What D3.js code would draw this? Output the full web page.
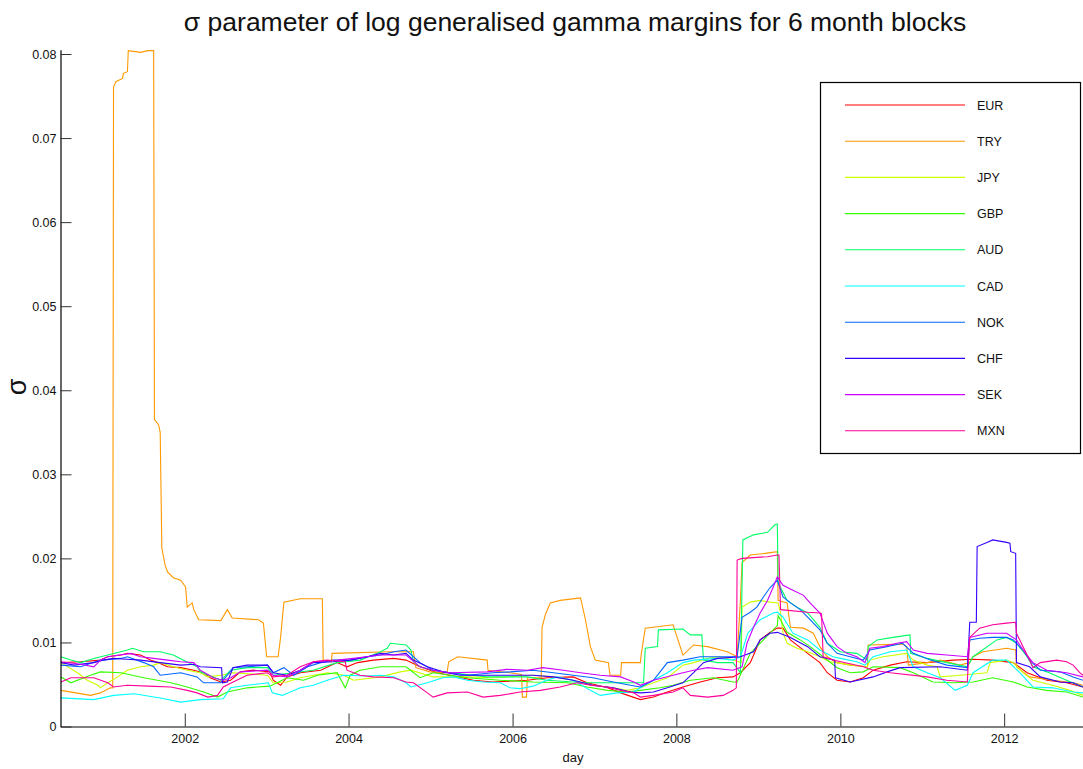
<!DOCTYPE html>
<html>
<head>
<meta charset="utf-8" />
<title>sigma parameter of log generalised gamma margins</title>
<script src="https://d3js.org/d3.v7.min.js"></script>
<style>
  body { margin: 0; background: #fff; }
  text { font-family: "Liberation Sans", Arial, Helvetica, sans-serif; }
</style>
</head>
<body>
<div id="chart"></div>
<script>

// currencies in legend order, hsv(10) colours
const currencies = ["EUR", "TRY", "JPY", "GBP", "AUD", "CAD", "NOK", "CHF", "SEK", "MXN"];
const colours = ["#ff0000", "#ff9900", "#ccff00", "#33ff00", "#00ff66", "#00ffff", "#0066ff", "#3300ff", "#cc00ff", "#ff0099"];

const yTicks = [0, 0.01, 0.02, 0.03, 0.04, 0.05, 0.06, 0.07, 0.08];
const xTickYears = [2002, 2004, 2006, 2008, 2010, 2012];

// [decimal year, sigma]
const EUR = [[2000.49,0.0076],[2000.73,0.0077],[2000.97,0.0079],[2001.06,0.0083],[2001.22,0.0085],[2001.30,0.0087],[2001.46,0.0085],[2001.58,0.0079],[2001.67,0.0076],[2001.79,0.0071],[2001.95,0.0070],[2002.11,0.0067],[2002.23,0.0064],[2002.31,0.0058],[2002.44,0.0053],[2002.56,0.0055],[2002.68,0.0065],[2002.84,0.0067],[2003.04,0.0065],[2003.08,0.0055],[2003.17,0.0049],[2003.25,0.0059],[2003.41,0.0064],[2003.66,0.0067],[2003.86,0.0076],[2003.98,0.0071],[2004.11,0.0076],[2004.30,0.0079],[2004.55,0.0081],[2004.70,0.0079],[2004.87,0.0071],[2005.08,0.0064],[2005.33,0.0059],[2005.52,0.0055],[2005.76,0.0053],[2006.18,0.0055],[2006.42,0.0058],[2006.74,0.0059],[2006.91,0.0052],[2007.16,0.0046],[2007.32,0.0040],[2007.56,0.0032],[2007.72,0.0035],[2007.89,0.0041],[2008.08,0.0047],[2008.29,0.0053],[2008.50,0.0058],[2008.69,0.0059],[2008.78,0.0064],[2008.90,0.0076],[2009.02,0.0103],[2009.14,0.0112],[2009.23,0.0117],[2009.30,0.0117],[2009.39,0.0103],[2009.60,0.0087],[2009.75,0.0076],[2009.84,0.0064],[2009.96,0.0055],[2010.12,0.0053],[2010.28,0.0058],[2010.40,0.0067],[2010.61,0.0073],[2010.81,0.0077],[2011.06,0.0076],[2011.38,0.0079],[2011.62,0.0080],[2011.86,0.0079],[2012.11,0.0076],[2012.28,0.0064],[2012.52,0.0055],[2012.76,0.0052],[2012.96,0.0047]];

const TRY = [[2000.49,0.0043],[2000.67,0.0040],[2000.85,0.0037],[2000.97,0.0040],[2001.09,0.0046],[2001.12,0.0046],[2001.13,0.0761],[2001.16,0.0767],[2001.20,0.0769],[2001.24,0.0771],[2001.25,0.0777],[2001.30,0.0779],[2001.31,0.0804],[2001.46,0.0802],[2001.55,0.0804],[2001.62,0.0804],[2001.63,0.0365],[2001.68,0.0359],[2001.70,0.0350],[2001.72,0.0212],[2001.76,0.0192],[2001.79,0.0184],[2001.86,0.0177],[2001.95,0.0174],[2002.01,0.0166],[2002.03,0.0142],[2002.09,0.0147],[2002.11,0.0139],[2002.17,0.0127],[2002.44,0.0126],[2002.52,0.0139],[2002.58,0.0129],[2002.90,0.0127],[2002.96,0.0123],[2003.00,0.0083],[2003.14,0.0083],[2003.17,0.0106],[2003.21,0.0148],[2003.41,0.0152],[2003.68,0.0152],[2003.69,0.0079],[2003.79,0.0077],[2003.80,0.0087],[2004.51,0.0089],[2004.79,0.0089],[2004.82,0.0070],[2004.99,0.0065],[2005.20,0.0064],[2005.22,0.0077],[2005.33,0.0083],[2005.69,0.0079],[2005.70,0.0067],[2005.97,0.0064],[2006.11,0.0062],[2006.12,0.0035],[2006.17,0.0035],[2006.18,0.0058],[2006.35,0.0058],[2006.36,0.0118],[2006.40,0.0133],[2006.46,0.0147],[2006.58,0.0150],[2006.83,0.0153],[2006.89,0.0127],[2006.95,0.0095],[2007.01,0.0079],[2007.17,0.0076],[2007.19,0.0061],[2007.32,0.0061],[2007.33,0.0076],[2007.56,0.0076],[2007.57,0.0085],[2007.62,0.0117],[2007.96,0.0121],[2008.08,0.0085],[2008.21,0.0097],[2008.38,0.0095],[2008.62,0.0089],[2008.74,0.0083],[2008.78,0.0150],[2008.80,0.0195],[2008.90,0.0204],[2009.08,0.0206],[2009.23,0.0208],[2009.24,0.0150],[2009.35,0.0147],[2009.39,0.0118],[2009.55,0.0117],[2009.67,0.0111],[2009.75,0.0095],[2009.84,0.0083],[2009.96,0.0076],[2010.12,0.0073],[2010.33,0.0071],[2010.34,0.0097],[2010.76,0.0098],[2010.81,0.0095],[2010.83,0.0073],[2011.06,0.0076],[2011.22,0.0079],[2011.46,0.0073],[2011.58,0.0076],[2011.62,0.0083],[2011.74,0.0089],[2012.03,0.0093],[2012.14,0.0091],[2012.15,0.0071],[2012.31,0.0059],[2012.59,0.0055],[2012.84,0.0052],[2012.96,0.0049]];

const JPY = [[2000.49,0.0076],[2000.69,0.0064],[2000.81,0.0055],[2000.94,0.0049],[2000.97,0.0046],[2001.06,0.0052],[2001.18,0.0059],[2001.30,0.0067],[2001.46,0.0071],[2001.62,0.0073],[2001.70,0.0076],[2001.86,0.0071],[2002.03,0.0067],[2002.19,0.0064],[2002.28,0.0059],[2002.44,0.0061],[2002.59,0.0064],[2003.01,0.0061],[2003.08,0.0052],[2003.25,0.0053],[2003.41,0.0058],[2003.74,0.0064],[2003.94,0.0061],[2004.06,0.0055],[2004.39,0.0059],[2004.63,0.0065],[2004.76,0.0067],[2005.03,0.0059],[2005.45,0.0059],[2005.76,0.0058],[2006.25,0.0061],[2006.50,0.0059],[2006.74,0.0055],[2006.98,0.0049],[2007.23,0.0046],[2007.40,0.0043],[2007.56,0.0046],[2007.72,0.0052],[2007.89,0.0058],[2008.08,0.0073],[2008.21,0.0076],[2008.38,0.0081],[2008.53,0.0083],[2008.69,0.0079],[2008.79,0.0076],[2008.80,0.0142],[2008.90,0.0148],[2009.02,0.0150],[2009.14,0.0148],[2009.24,0.0147],[2009.27,0.0135],[2009.30,0.0111],[2009.35,0.0099],[2009.47,0.0093],[2009.60,0.0089],[2009.75,0.0083],[2009.87,0.0077],[2010.15,0.0073],[2010.33,0.0071],[2010.36,0.0079],[2010.52,0.0083],[2010.81,0.0087],[2010.89,0.0079],[2011.06,0.0073],[2011.18,0.0071],[2011.22,0.0059],[2011.46,0.0061],[2011.79,0.0064],[2011.83,0.0076],[2012.03,0.0079],[2012.11,0.0076],[2012.23,0.0064],[2012.35,0.0055],[2012.59,0.0049],[2012.80,0.0043],[2012.96,0.0037]];

const GBP = [[2000.49,0.0059],[2000.61,0.0052],[2000.85,0.0061],[2000.97,0.0065],[2001.22,0.0064],[2001.50,0.0058],[2001.83,0.0052],[2002.03,0.0047],[2002.23,0.0041],[2002.40,0.0035],[2002.52,0.0041],[2002.76,0.0046],[2003.04,0.0048],[2003.25,0.0058],[2003.45,0.0055],[2003.62,0.0061],[2003.86,0.0064],[2003.96,0.0046],[2004.02,0.0061],[2004.14,0.0067],[2004.39,0.0071],[2004.70,0.0071],[2004.87,0.0058],[2005.03,0.0064],[2005.45,0.0058],[2005.85,0.0055],[2006.25,0.0053],[2006.67,0.0052],[2006.91,0.0047],[2007.16,0.0043],[2007.40,0.0041],[2007.56,0.0043],[2007.80,0.0046],[2007.96,0.0049],[2008.17,0.0055],[2008.45,0.0058],[2008.69,0.0053],[2008.74,0.0053],[2008.90,0.0087],[2009.06,0.0103],[2009.23,0.0120],[2009.24,0.0132],[2009.35,0.0112],[2009.51,0.0103],[2009.63,0.0095],[2009.79,0.0083],[2009.96,0.0070],[2010.12,0.0064],[2010.28,0.0065],[2010.40,0.0071],[2010.73,0.0070],[2010.89,0.0064],[2011.13,0.0053],[2011.38,0.0052],[2011.62,0.0053],[2011.86,0.0058],[2012.11,0.0053],[2012.28,0.0047],[2012.52,0.0043],[2012.76,0.0041],[2012.96,0.0035]];

const AUD = [[2000.49,0.0083],[2000.61,0.0079],[2000.73,0.0076],[2000.89,0.0081],[2001.06,0.0085],[2001.30,0.0091],[2001.36,0.0093],[2001.50,0.0089],[2001.70,0.0089],[2001.86,0.0085],[2001.98,0.0079],[2002.15,0.0071],[2002.19,0.0065],[2002.44,0.0055],[2002.56,0.0067],[2002.76,0.0070],[2003.01,0.0070],[2003.08,0.0061],[2003.33,0.0064],[2003.57,0.0067],[2003.86,0.0076],[2004.14,0.0079],[2004.35,0.0087],[2004.47,0.0093],[2004.51,0.0099],[2004.70,0.0097],[2004.76,0.0091],[2004.79,0.0077],[2004.87,0.0071],[2005.03,0.0067],[2005.24,0.0064],[2005.69,0.0059],[2006.18,0.0059],[2006.42,0.0055],[2006.74,0.0053],[2006.91,0.0052],[2007.48,0.0052],[2007.60,0.0052],[2007.62,0.0093],[2007.77,0.0095],[2007.78,0.0115],[2008.08,0.0116],[2008.17,0.0109],[2008.31,0.0109],[2008.33,0.0079],[2008.50,0.0076],[2008.69,0.0076],[2008.78,0.0064],[2008.81,0.0222],[2008.94,0.0228],[2009.11,0.0231],[2009.20,0.0240],[2009.23,0.0241],[2009.24,0.0171],[2009.35,0.0150],[2009.47,0.0142],[2009.60,0.0135],[2009.75,0.0118],[2009.84,0.0099],[2010.00,0.0089],[2010.20,0.0087],[2010.33,0.0079],[2010.34,0.0095],[2010.45,0.0103],[2010.64,0.0106],[2010.85,0.0109],[2010.86,0.0087],[2011.06,0.0081],[2011.30,0.0076],[2011.55,0.0071],[2011.62,0.0083],[2011.91,0.0103],[2012.03,0.0106],[2012.15,0.0099],[2012.28,0.0083],[2012.35,0.0071],[2012.52,0.0065],[2012.76,0.0055],[2012.96,0.0047]];

const CAD = [[2000.49,0.0034],[2000.89,0.0032],[2001.13,0.0037],[2001.38,0.0039],[2001.70,0.0034],[2001.95,0.0029],[2002.19,0.0032],[2002.47,0.0033],[2002.56,0.0046],[2002.76,0.0049],[2003.02,0.0052],[2003.07,0.0040],[2003.19,0.0037],[2003.41,0.0046],[2003.57,0.0049],[2003.74,0.0055],[2003.94,0.0061],[2004.23,0.0060],[2004.39,0.0061],[2004.55,0.0059],[2004.70,0.0052],[2004.76,0.0047],[2004.96,0.0052],[2005.15,0.0058],[2005.28,0.0059],[2005.45,0.0055],[2005.64,0.0053],[2005.85,0.0052],[2005.97,0.0046],[2006.09,0.0045],[2006.25,0.0048],[2006.42,0.0055],[2006.55,0.0059],[2006.74,0.0055],[2006.95,0.0043],[2007.07,0.0037],[2007.28,0.0040],[2007.48,0.0041],[2007.56,0.0046],[2007.72,0.0055],[2007.89,0.0064],[2008.08,0.0076],[2008.21,0.0079],[2008.50,0.0081],[2008.69,0.0079],[2008.78,0.0083],[2008.87,0.0111],[2009.02,0.0127],[2009.18,0.0135],[2009.23,0.0136],[2009.30,0.0130],[2009.42,0.0111],[2009.60,0.0103],[2009.75,0.0091],[2009.91,0.0083],[2010.00,0.0081],[2010.20,0.0077],[2010.30,0.0073],[2010.40,0.0083],[2010.61,0.0089],[2010.81,0.0091],[2010.89,0.0071],[2011.06,0.0064],[2011.22,0.0058],[2011.40,0.0043],[2011.55,0.0049],[2011.62,0.0064],[2011.86,0.0079],[2012.03,0.0079],[2012.19,0.0064],[2012.35,0.0047],[2012.59,0.0046],[2012.84,0.0041],[2012.96,0.0040]];

const NOK = [[2000.49,0.0073],[2000.73,0.0071],[2000.97,0.0079],[2001.22,0.0081],[2001.30,0.0083],[2001.50,0.0076],[2001.62,0.0071],[2001.70,0.0061],[2001.95,0.0064],[2002.15,0.0059],[2002.23,0.0052],[2002.44,0.0052],[2002.52,0.0061],[2002.59,0.0070],[2002.76,0.0071],[2003.01,0.0073],[2003.08,0.0064],[2003.21,0.0070],[2003.33,0.0061],[2003.50,0.0071],[2003.66,0.0076],[2003.81,0.0079],[2004.02,0.0079],[2004.23,0.0083],[2004.39,0.0085],[2004.55,0.0089],[2004.70,0.0091],[2004.87,0.0076],[2005.03,0.0067],[2005.24,0.0064],[2005.45,0.0061],[2005.76,0.0064],[2005.97,0.0065],[2006.25,0.0067],[2006.50,0.0064],[2006.74,0.0061],[2006.98,0.0058],[2007.23,0.0053],[2007.44,0.0049],[2007.56,0.0047],[2007.72,0.0055],[2007.89,0.0076],[2008.08,0.0079],[2008.29,0.0083],[2008.74,0.0083],[2008.80,0.0130],[2008.90,0.0136],[2008.98,0.0142],[2009.06,0.0154],[2009.14,0.0165],[2009.23,0.0174],[2009.30,0.0154],[2009.39,0.0147],[2009.51,0.0139],[2009.63,0.0127],[2009.75,0.0115],[2009.84,0.0099],[2009.96,0.0087],[2010.12,0.0083],[2010.28,0.0079],[2010.36,0.0091],[2010.57,0.0095],[2010.76,0.0099],[2010.89,0.0087],[2011.10,0.0079],[2011.30,0.0073],[2011.55,0.0070],[2011.58,0.0103],[2011.70,0.0105],[2011.86,0.0106],[2012.03,0.0106],[2012.11,0.0103],[2012.23,0.0091],[2012.31,0.0079],[2012.44,0.0067],[2012.68,0.0065],[2012.84,0.0059],[2012.96,0.0055]];

const CHF = [[2000.49,0.0076],[2000.65,0.0073],[2000.89,0.0076],[2001.01,0.0079],[2001.13,0.0081],[2001.30,0.0080],[2001.46,0.0079],[2001.70,0.0076],[2001.95,0.0073],[2002.11,0.0074],[2002.19,0.0071],[2002.45,0.0070],[2002.46,0.0052],[2002.52,0.0053],[2002.59,0.0070],[2002.76,0.0073],[2003.01,0.0073],[2003.08,0.0064],[2003.25,0.0061],[2003.41,0.0067],[2003.57,0.0076],[2003.81,0.0077],[2004.02,0.0079],[2004.23,0.0083],[2004.39,0.0087],[2004.55,0.0085],[2004.70,0.0087],[2004.79,0.0079],[2004.96,0.0071],[2005.15,0.0065],[2005.36,0.0061],[2006.25,0.0061],[2006.50,0.0059],[2006.74,0.0055],[2006.98,0.0049],[2007.23,0.0046],[2007.44,0.0041],[2007.56,0.0040],[2007.72,0.0041],[2007.89,0.0046],[2008.08,0.0052],[2008.21,0.0064],[2008.33,0.0076],[2008.50,0.0081],[2008.78,0.0083],[2008.94,0.0089],[2009.02,0.0103],[2009.14,0.0111],[2009.23,0.0112],[2009.39,0.0106],[2009.60,0.0095],[2009.75,0.0083],[2009.93,0.0079],[2009.94,0.0058],[2010.12,0.0053],[2010.40,0.0059],[2010.57,0.0065],[2010.73,0.0070],[2011.22,0.0071],[2011.55,0.0067],[2011.58,0.0124],[2011.66,0.0124],[2011.67,0.0214],[2011.79,0.0219],[2011.86,0.0222],[2012.03,0.0219],[2012.07,0.0218],[2012.08,0.0208],[2012.14,0.0206],[2012.15,0.0076],[2012.31,0.0071],[2012.44,0.0059],[2012.68,0.0053],[2012.84,0.0052],[2012.96,0.0047]];

const SEK = [[2000.49,0.0077],[2000.73,0.0074],[2000.89,0.0071],[2000.97,0.0079],[2001.06,0.0083],[2001.34,0.0087],[2001.46,0.0083],[2001.62,0.0081],[2001.79,0.0079],[2001.95,0.0077],[2002.11,0.0076],[2002.19,0.0067],[2002.35,0.0058],[2002.47,0.0055],[2002.56,0.0058],[2002.68,0.0065],[2003.01,0.0067],[2003.08,0.0061],[2003.25,0.0059],[2003.41,0.0067],[2003.57,0.0077],[2003.86,0.0079],[2004.06,0.0081],[2004.39,0.0085],[2004.70,0.0085],[2004.87,0.0071],[2005.03,0.0067],[2005.24,0.0064],[2005.69,0.0065],[2005.93,0.0068],[2006.18,0.0067],[2006.37,0.0070],[2006.62,0.0067],[2006.83,0.0064],[2007.07,0.0061],[2007.32,0.0059],[2007.48,0.0053],[2007.56,0.0049],[2007.72,0.0055],[2008.08,0.0064],[2008.21,0.0067],[2008.38,0.0070],[2008.69,0.0067],[2008.80,0.0071],[2008.86,0.0099],[2008.94,0.0118],[2009.02,0.0135],[2009.11,0.0150],[2009.18,0.0166],[2009.23,0.0178],[2009.30,0.0168],[2009.42,0.0162],[2009.55,0.0156],[2009.63,0.0147],[2009.75,0.0135],[2009.84,0.0111],[2009.96,0.0095],[2010.08,0.0087],[2010.20,0.0083],[2010.30,0.0076],[2010.36,0.0093],[2010.52,0.0095],[2010.69,0.0099],[2010.81,0.0101],[2010.89,0.0091],[2011.06,0.0087],[2011.30,0.0085],[2011.55,0.0083],[2011.58,0.0106],[2011.79,0.0111],[2012.03,0.0111],[2012.15,0.0103],[2012.23,0.0091],[2012.35,0.0076],[2012.52,0.0067],[2012.76,0.0064],[2012.96,0.0059]];

const MXN = [[2000.49,0.0053],[2000.61,0.0058],[2000.89,0.0058],[2001.06,0.0052],[2001.13,0.0047],[2001.30,0.0049],[2001.55,0.0048],[2001.83,0.0047],[2002.03,0.0043],[2002.15,0.0040],[2002.28,0.0035],[2002.40,0.0037],[2002.47,0.0047],[2002.59,0.0053],[2002.76,0.0061],[2003.01,0.0064],[2003.08,0.0059],[2003.25,0.0061],[2003.41,0.0071],[2003.57,0.0077],[2003.74,0.0079],[2003.96,0.0077],[2003.98,0.0067],[2004.14,0.0061],[2004.30,0.0059],[2004.55,0.0058],[2004.70,0.0053],[2004.79,0.0052],[2004.96,0.0040],[2005.03,0.0035],[2005.20,0.0040],[2005.45,0.0041],[2005.64,0.0035],[2005.85,0.0037],[2006.09,0.0041],[2006.34,0.0043],[2006.58,0.0047],[2006.79,0.0052],[2006.95,0.0049],[2007.16,0.0047],[2007.32,0.0043],[2007.48,0.0040],[2007.56,0.0035],[2007.72,0.0037],[2007.96,0.0041],[2008.08,0.0046],[2008.17,0.0037],[2008.38,0.0035],[2008.57,0.0037],[2008.69,0.0043],[2008.73,0.0046],[2008.74,0.0198],[2008.80,0.0200],[2009.11,0.0202],[2009.23,0.0204],[2009.25,0.0204],[2009.27,0.0139],[2009.60,0.0136],[2009.75,0.0135],[2009.77,0.0134],[2009.79,0.0083],[2009.91,0.0079],[2010.28,0.0071],[2010.40,0.0067],[2010.61,0.0064],[2011.06,0.0059],[2011.30,0.0055],[2011.55,0.0053],[2011.58,0.0106],[2011.70,0.0117],[2011.86,0.0121],[2012.03,0.0123],[2012.14,0.0124],[2012.15,0.0111],[2012.23,0.0095],[2012.31,0.0079],[2012.35,0.0070],[2012.44,0.0076],[2012.64,0.0079],[2012.76,0.0077],[2012.84,0.0073],[2012.92,0.0064],[2012.96,0.0061]];

const seriesValues = [EUR, TRY, JPY, GBP, AUD, CAD, NOK, CHF, SEK, MXN];

// decimal year -> Date
function toDate(y) {
    const yr = Math.floor(y);
    const a = new Date(yr, 0, 1), b = new Date(yr + 1, 0, 1);
    return new Date(+a + (y - yr) * (b - a));
}

const W = 1083, H = 769;

const svg = d3.select("#chart")
    .append("svg")
        .attr("width", W)
        .attr("height", H);

const x = d3.scaleTime()
    .domain([toDate(2000.484), toDate(2012.96)])
    .range([60.5, 1083]);

const y = d3.scaleLinear()
    .domain([0, 0.0805])
    .range([726.5, 49.8]);

// lines
const line = d3.line()
    .x(d => x(toDate(d[0])))
    .y(d => y(d[1]));

svg.append("g")
    .selectAll("path")
    .data(seriesValues)
    .join("path")
        .attr("d", line)
        .attr("fill", "none")
        .attr("stroke", (d, i) => colours[i])
        .attr("stroke-width", 1.1);

// axes, ticks pointing inwards
const xAxis = svg.append("g")
    .attr("transform", "translate(0,726.5)")
    .call(d3.axisBottom(x)
        .tickValues(xTickYears.map(v => new Date(v, 0, 1)))
        .tickFormat(d3.timeFormat("%Y"))
        .tickSizeInner(-13)
        .tickSizeOuter(0)
        .tickPadding(8));

const yAxis = svg.append("g")
    .attr("transform", "translate(60.5,0)")
    .call(d3.axisLeft(y)
        .tickValues(yTicks)
        .tickFormat(d => d === 0 ? "0" : d3.format(".2f")(d))
        .tickSizeInner(-11)
        .tickSizeOuter(0)
        .tickPadding(4));

[xAxis, yAxis].forEach(g => {
    g.select(".domain").attr("stroke", "#000").attr("stroke-width", 1.2);
    g.selectAll(".tick line").attr("stroke", "#333");
    g.selectAll(".tick text")
        .attr("fill", "#111")
        .style("font-size", "12.5px")
        .style("font-family", null);
});

// labels
svg.append("text")
    .attr("x", 575)
    .attr("y", 31)
    .attr("text-anchor", "middle")
    .style("font-size", "26.5px")
    .attr("fill", "#111")
    .text("σ parameter of log generalised gamma margins for 6 month blocks");

svg.append("text")
    .attr("x", 573)
    .attr("y", 762)
    .attr("text-anchor", "middle")
    .style("font-size", "13px")
    .attr("fill", "#111")
    .text("day");

svg.append("text")
    .attr("transform", "translate(26,387) rotate(-90)")
    .attr("text-anchor", "middle")
    .style("font-size", "27px")
    .attr("fill", "#111")
    .text("σ");

// legend
const legend = svg.append("g");
legend.append("rect")
    .attr("x", 820.5)
    .attr("y", 82.5)
    .attr("width", 260)
    .attr("height", 371)
    .attr("fill", "#fff")
    .attr("stroke", "#000")
    .attr("stroke-width", 1.2);

const rows = legend.selectAll("g.row")
    .data(currencies)
    .join("g")
        .attr("class", "row")
        .attr("transform", (d, i) => `translate(0,${105 + i * 36.2})`);

rows.append("line")
    .attr("x1", 845).attr("x2", 965)
    .attr("stroke", (d, i) => colours[i])
    .attr("stroke-width", 1.1);

rows.append("text")
    .attr("x", 977)
    .attr("dy", "0.36em")
    .style("font-size", "12.5px")
    .attr("fill", "#111")
    .text(d => d);

</script>
</body>
</html>
